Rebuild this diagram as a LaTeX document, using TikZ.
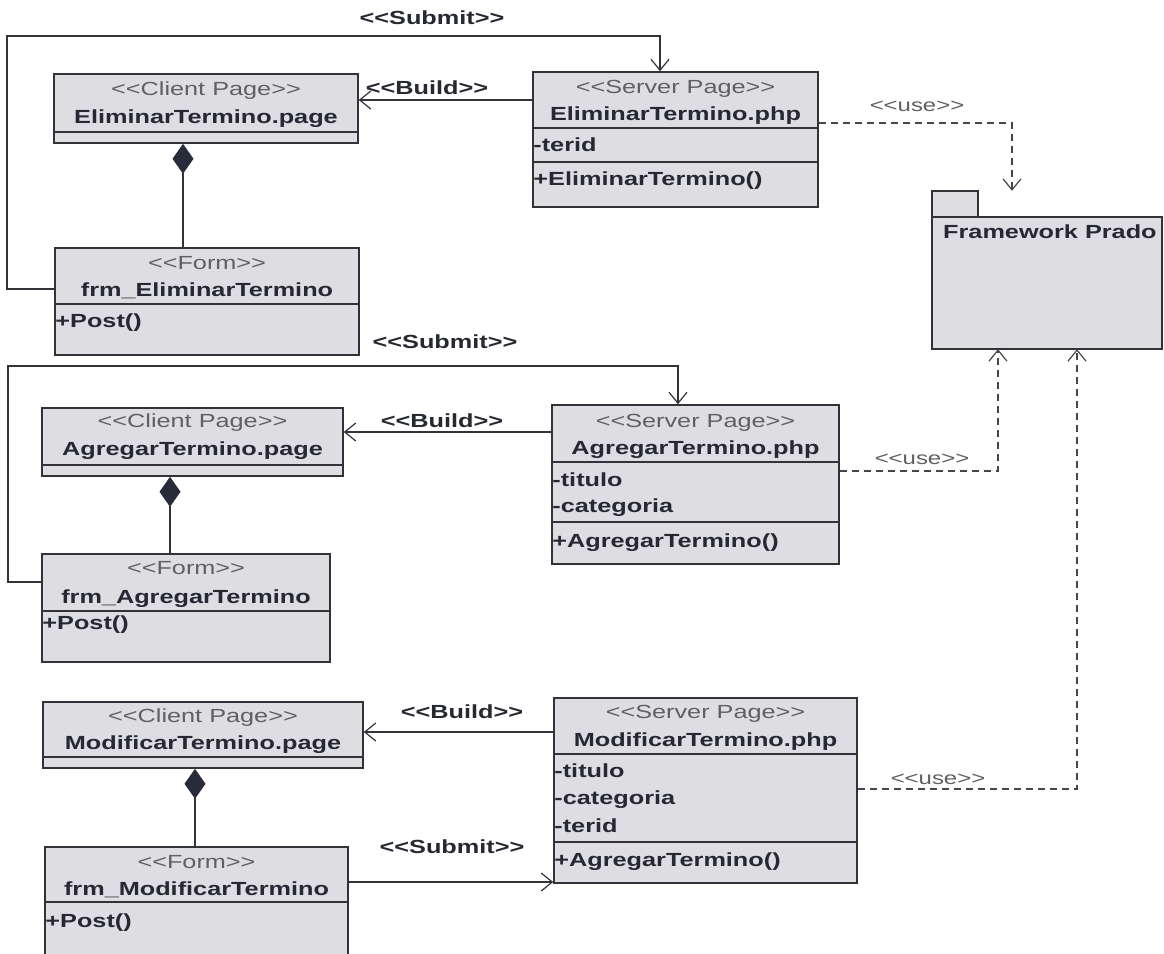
\documentclass[tikz,border=0pt]{standalone}
\usepackage{fontspec}
\newfontfamily\umlfont{Liberation Sans}[FakeStretch=1.33]
\usetikzlibrary{arrows.meta,fit}
\definecolor{boxfill}{RGB}{222,221,226}
\definecolor{linec}{RGB}{50,50,56}
\definecolor{namec}{RGB}{38,40,50}
\definecolor{stereoc}{RGB}{95,95,100}
\definecolor{usec}{RGB}{70,70,74}
\definecolor{diamondc}{RGB}{40,44,58}
\begin{document}
\begin{tikzpicture}[x=1pt,y=-1pt,
  umlbox/.style={draw=linec, fill=boxfill, line width=1.6pt, inner sep=0pt},
  sepline/.style={draw=linec, line width=1.4pt},
  stereo/.style={font=\umlfont\fontsize{19}{22}\selectfont, text=stereoc, inner sep=0pt, anchor=mid, yshift=-4pt},
  clsname/.style={font=\umlfont\bfseries\fontsize{19}{22}\selectfont, text=namec, inner sep=0pt, anchor=mid, yshift=-4pt},
  member/.style={font=\umlfont\bfseries\fontsize{19}{22}\selectfont, text=namec, inner sep=0pt, anchor=mid west, xshift=1pt, yshift=-4pt},
  rellabel/.style={font=\umlfont\bfseries\fontsize{19}{22}\selectfont, text=namec, inner sep=0pt, anchor=mid, yshift=-4pt},
  uselabel/.style={font=\umlfont\fontsize{18}{22}\selectfont, text=stereoc, inner sep=0pt, anchor=mid, yshift=-4pt},
  conn/.style={draw=linec, line width=1.3pt},
  openarrow/.style={-{Straight Barb[length=11pt,width=18pt,line width=1.2pt]}},
  usedep/.style={draw=usec, line width=1.3pt, dash pattern=on 7pt off 5pt,
    -{Straight Barb[length=11pt,width=18pt,line width=1.2pt]}},
  compo/.style={draw=linec, line width=1.3pt, {Diamond[length=30pt,width=21pt,fill=diamondc,color=diamondc]}-}
]
\useasboundingbox (0,0) rectangle (1164,953);

% ---------- Eliminar ----------
\node[umlbox, fit={(54,74) (358,143)}] (cli1) {};
\draw[sepline] (cli1.west |- 0,132) -- (cli1.east |- 0,132);
\node[stereo] at (cli1.north |- 0,89) {<<Client Page>>};
\node[clsname] at (cli1.north |- 0,117) {EliminarTermino.page};

\node[umlbox, fit={(55,248) (359,355)}] (frm1) {};
\draw[sepline] (frm1.west |- 0,304) -- (frm1.east |- 0,304);
\node[stereo] at (frm1.north |- 0,263) {<<Form>>};
\node[clsname] at (frm1.north |- 0,290) {frm\_EliminarTermino};
\node[member] at (frm1.west |- 0,321) {+Post()};

\node[umlbox, fit={(533,72) (818,207)}] (srv1) {};
\draw[sepline] (srv1.west |- 0,128) -- (srv1.east |- 0,128);
\draw[sepline] (srv1.west |- 0,162) -- (srv1.east |- 0,162);
\node[stereo] at (srv1.north |- 0,87) {<<Server Page>>};
\node[clsname] at (srv1.north |- 0,114) {EliminarTermino.php};
\node[member] at (srv1.west |- 0,145) {-terid};
\node[member] at (srv1.west |- 0,179) {+EliminarTermino()};

% ---------- Framework package ----------
\node[inner sep=0pt, fit={(932,191) (1162,349)}] (pkg) {};
\draw[umlbox] (pkg.north west) rectangle (978,217);
\draw[umlbox] (pkg.west |- 0,217) rectangle (pkg.south east);
\node[clsname, anchor=mid west] at (943,232) {Framework Prado};

% ---------- Agregar ----------
\node[umlbox, fit={(42,408) (343,476)}] (cli2) {};
\draw[sepline] (cli2.west |- 0,465) -- (cli2.east |- 0,465);
\node[stereo] at (cli2.north |- 0,421) {<<Client Page>>};
\node[clsname] at (cli2.north |- 0,449) {AgregarTermino.page};

\node[umlbox, fit={(42,554) (330,662)}] (frm2) {};
\draw[sepline] (frm2.west |- 0,611) -- (frm2.east |- 0,611);
\node[stereo] at (frm2.north |- 0,568) {<<Form>>};
\node[clsname] at (frm2.north |- 0,597) {frm\_AgregarTermino};
\node[member] at (frm2.west |- 0,623) {+Post()};

\node[umlbox, fit={(552,405) (839,564)}] (srv2) {};
\draw[sepline] (srv2.west |- 0,462) -- (srv2.east |- 0,462);
\draw[sepline] (srv2.west |- 0,522) -- (srv2.east |- 0,522);
\node[stereo] at (srv2.north |- 0,421) {<<Server Page>>};
\node[clsname] at (srv2.north |- 0,448) {AgregarTermino.php};
\node[member] at (srv2.west |- 0,480) {-titulo};
\node[member] at (srv2.west |- 0,506) {-categoria};
\node[member] at (srv2.west |- 0,541) {+AgregarTermino()};

% ---------- Modificar ----------
\node[umlbox, fit={(43,702) (363,768)}] (cli3) {};
\draw[sepline] (cli3.west |- 0,757) -- (cli3.east |- 0,757);
\node[stereo] at (cli3.north |- 0,716) {<<Client Page>>};
\node[clsname] at (cli3.north |- 0,743) {ModificarTermino.page};

\node[umlbox, fit={(45,847) (348,958)}] (frm3) {};
\draw[sepline] (frm3.west |- 0,902) -- (frm3.east |- 0,902);
\node[stereo] at (frm3.north |- 0,862) {<<Form>>};
\node[clsname] at (frm3.north |- 0,889) {frm\_ModificarTermino};
\node[member] at (frm3.west |- 0,921) {+Post()};

\node[umlbox, fit={(554,698) (857,883)}] (srv3) {};
\draw[sepline] (srv3.west |- 0,754) -- (srv3.east |- 0,754);
\draw[sepline] (srv3.west |- 0,842) -- (srv3.east |- 0,842);
\node[stereo] at (srv3.north |- 0,712) {<<Server Page>>};
\node[clsname] at (srv3.north |- 0,740) {ModificarTermino.php};
\node[member] at (srv3.west |- 0,771) {-titulo};
\node[member] at (srv3.west |- 0,798) {-categoria};
\node[member] at (srv3.west |- 0,826) {-terid};
\node[member] at (srv3.west |- 0,860) {+AgregarTermino()};

% ---------- compositions ----------
\draw[compo] (cli1.south -| 183,0) -- (frm1.north -| 183,0);
\draw[compo] (cli2.south -| 170,0) -- (frm2.north -| 170,0);
\draw[compo] (cli3.south -| 195,0) -- (frm3.north -| 195,0);

% ---------- build ----------
\draw[conn, openarrow] (srv1.west |- 0,100) -- (cli1.east |- 0,100);
\draw[conn, openarrow] (srv2.west |- 0,432) -- (cli2.east |- 0,432);
\draw[conn, openarrow] (srv3.west |- 0,732) -- (cli3.east |- 0,732);
\node[rellabel] (b1) at (427,88) {<<Build>>};
\node[rellabel] (b2) at (442,421) {<<Build>>};
\node[rellabel] (b3) at (462,712) {<<Build>>};

% ---------- submit ----------
\draw[conn, openarrow] (frm1.west |- 0,289) -- (7,289) -- (7,36) -- (660,36) -- (srv1.north -| 660,0);
\draw[conn, openarrow] (frm2.west |- 0,582) -- (8,582) -- (8,366) -- (678,366) -- (srv2.north -| 678,0);
\draw[conn, openarrow] (frm3.east |- 0,882) -- (srv3.west |- 0,882);
\node[rellabel] (s1) at (432,18) {<<Submit>>};
\node[rellabel] (s2) at (445,342) {<<Submit>>};
\node[rellabel] (s3) at (452,847) {<<Submit>>};

% ---------- use ----------
\draw[usedep] (srv1.east |- 0,123) -- (1012,123) -- (pkg.north -| 1012,0);
\draw[usedep] (srv2.east |- 0,471) -- (998,471) -- (pkg.south -| 998,0);
\draw[usedep] (srv3.east |- 0,789) -- (1077,789) -- (pkg.south -| 1077,0);
\node[uselabel] (u1) at (917,105) {<<use>>};
\node[uselabel] (u2) at (922,458) {<<use>>};
\node[uselabel] (u3) at (938,778) {<<use>>};
\end{tikzpicture}
\end{document}
